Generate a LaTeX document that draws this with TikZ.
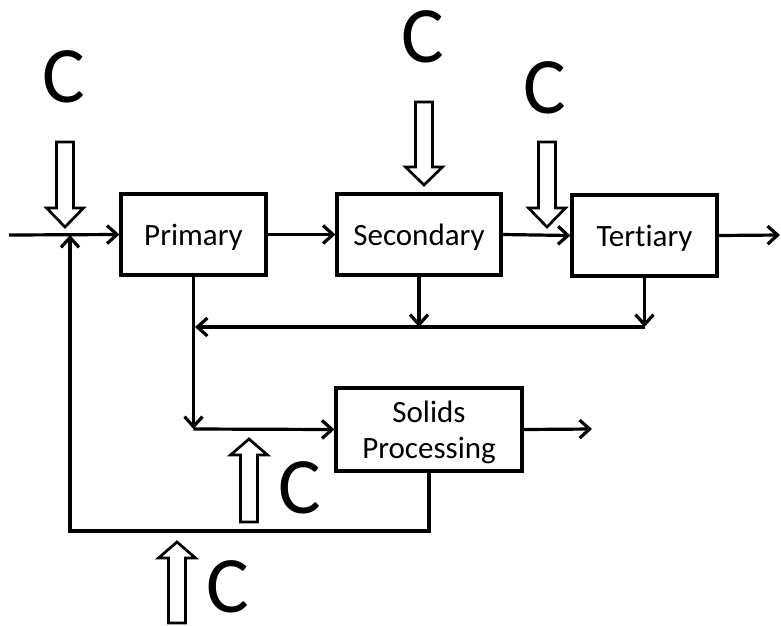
\documentclass[tikz,border=0pt]{standalone}
\usepackage{fontspec}
\setmainfont{Carlito}[Ligatures=NoCommon]
\usepackage{tikz}
\usetikzlibrary{arrows.meta}
\definecolor{ink}{HTML}{000000}

\begin{document}
\begin{tikzpicture}[x=1pt,y=-1pt,line width=3.2pt,
  every node/.style={font=\fontsize{31}{36}\selectfont,color=ink},
  stage/.style={draw=ink,line width=3.2pt,inner sep=0pt,text depth=0pt,minimum height=81pt,align=center},
  flow/.style={draw=ink,-{Straight Barb[length=10pt,width=18pt]}},
  chem/.style={draw=ink,fill=white,line width=2.7pt,line join=miter},
  dose/.style={font=\fontsize{80}{80}\selectfont,inner sep=0pt}]
\useasboundingbox (0,0) rectangle (781,625);
% treatment train
\node[stage,minimum width=145pt] (primary) at (193.5,234.5) {Primary};
\node[stage,minimum width=164pt] (secondary) at (419,234.5) {Secondary};
\node[stage,minimum width=145pt] (tertiary) at (644.5,235.5) {Tertiary};
\node[stage,minimum width=186pt,minimum height=83pt] (solids) at (429,429.5) {Solids\\Processing};
\coordinate (inlet) at (9,235);
\coordinate (mix) at (70,235);
\coordinate (outlet) at (780,235);
\coordinate (sjoin) at (secondary.south |- 0,327);
\coordinate (tjoin) at (tertiary.south |- 0,327);
\coordinate (rjoin) at (195,327);
\coordinate (pjoin) at (primary.south |- 0,429);
\coordinate (cake) at (592,429);
\coordinate (sbottom) at (solids.south |- 0,531);
\coordinate (lbottom) at (70,531);
\draw[flow] (inlet) -- (primary.west);
\draw[flow] (primary.east) -- (secondary.west);
\draw[flow] (secondary.east) -- (tertiary.west);
\draw[flow] (tertiary.east) -- (outlet);
\draw[flow] (secondary.south) -- (sjoin);
\draw[flow] (tertiary.south) -- (tjoin);
\draw[flow] (tjoin) -- (rjoin);
\draw[flow] (primary.south) -- (pjoin);
\draw[flow] (pjoin) -- (solids.west);
\draw[flow] (solids.east) -- (cake);
\draw[flow] (solids.south) -- (sbottom) -- (lbottom) -- (mix);
% chemical dosing points
\foreach \x/\top/\base/\tip in {65/142/208/227, 424/102/167/185, 547/142/208/227, 249/522/455/439, 177/623/558/542}{
  \draw[chem] (\x-8.5,\top) -- (\x-8.5,\base) -- (\x-18.5,\base) -- (\x,\tip)
    -- (\x+18.5,\base) -- (\x+8.5,\base) -- (\x+8.5,\top) -- cycle;
}
\foreach \x/\y/\n in {64/77/1, 423/37/2, 545/88/3, 300/488/4, 228/587/5}{
  \node[dose] (c\n) at (\x,\y) {C};
}
\end{tikzpicture}
\end{document}
